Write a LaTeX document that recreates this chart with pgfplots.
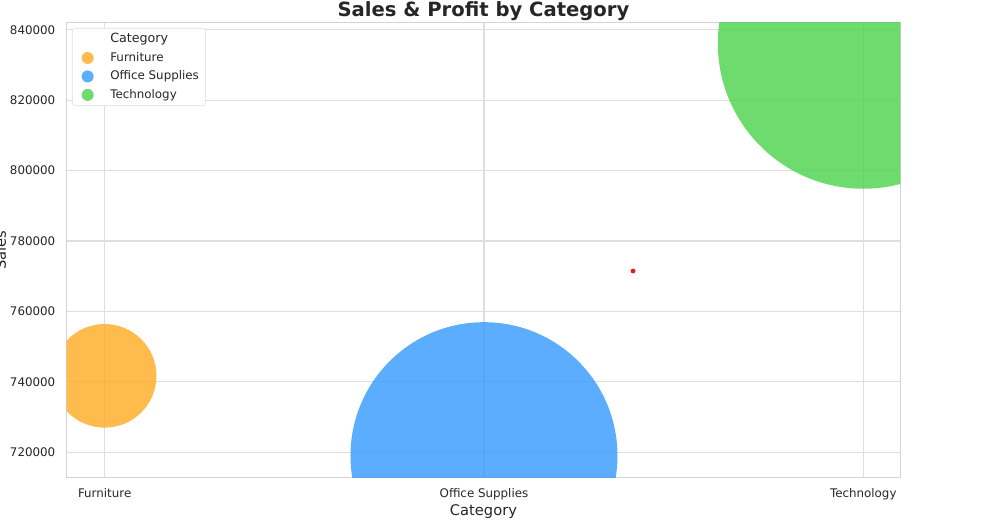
\documentclass[border=0pt]{standalone}
\usepackage{fontspec}
\setmainfont{DejaVu Sans}
\usepackage{pgfplots}
\pgfplotsset{compat=1.18}
\usepackage{pgfplotstable}

\definecolor{furn}{RGB}{255,171,31}
\definecolor{offs}{RGB}{53,153,254}
\definecolor{tech}{RGB}{74,210,74}
\definecolor{gridc}{HTML}{DEDEDE}
\definecolor{framec}{HTML}{D4D4D4}
\definecolor{txt}{HTML}{262626}
\definecolor{dotred}{RGB}{220,30,30}

% x = category index, sales in $, profit in $k
\pgfplotstableread{
x sales profitk
0 741718.42 18.451
}\furniture
\pgfplotstableread{
x sales profitk
1 719047.03 122.491
}\office
\pgfplotstableread{
x sales profitk
2 836154.03 145.455
}\technology

\pgfplotsset{
  bubble/.style={
    scatter, only marks, mark=*, forget plot,
    scatter/use mapped color={draw=#1, draw opacity=0, fill=#1, fill opacity=0.8},
    visualization depends on={109.1*sqrt(\thisrow{profitk}/145.455) \as \rad},
    scatter/@pre marker code/.append style={/tikz/mark size=\rad},
  },
  legmark/.style={only marks, mark=*, mark size=4.5pt,
    mark options={draw=#1, draw opacity=0, fill=#1, fill opacity=0.8}},
}

\begin{document}
\begin{tikzpicture}
\path[use as bounding box] (-50pt,-39.2pt) rectangle (700pt,358.3pt);
\begin{axis}[
  at={(0,0)}, anchor=south west,
  scale only axis, width=625.2pt, height=341.4pt,
  xmin=-0.1002, xmax=2.0975, ymin=712788, ymax=842044,
  clip marker paths=true,
  xtick={0,1,2},
  xticklabels={Furniture,Office Supplies,Technology},
  ytick={720000,740000,760000,780000,800000,820000,840000},
  scaled y ticks=false,
  yticklabel style={/pgf/number format/fixed, /pgf/number format/1000 sep={},
    /pgf/number format/assume math mode=true, xshift=-5pt},
  xticklabel style={yshift=-4.5pt},
  ticklabel style={font=\fontsize{8.9}{10}\selectfont, text=txt},
  major tick length=0pt,
  grid=major,
  major grid style={gridc, line width=0.8pt},
  axis line style={framec, line width=1pt},
  every axis title shift=0pt,
  title={Sales \& Profit by Category},
  title style={at={(axis description cs:0.5,1.013)}, anchor=base,
    font=\fontsize{14.7}{17}\selectfont\bfseries, text=txt},
  xlabel={Category},
  xlabel style={at={(axis description cs:0.5,-0.0835)}, anchor=base,
    font=\fontsize{11}{13}\selectfont, text=txt},
  ylabel={Sales},
  ylabel style={at={(axis description cs:-0.0728,0.5)}, anchor=base,
    font=\fontsize{11}{13}\selectfont, text=txt},
  legend cell align=left,
  legend style={at={(axis description cs:0.0064,0.988)}, anchor=north west,
    draw=gridc, rounded corners=2pt, fill=white, row sep=1.6pt,
    /tikz/every odd column/.append style={column sep=10.5pt},
    font=\fontsize{8.9}{10}\selectfont, text=txt},
]
\addplot[bubble=furn] table[x=x, y=sales] {\furniture};
\addplot[bubble=offs] table[x=x, y=sales] {\office};
\addplot[bubble=tech] table[x=x, y=sales] {\technology};
\addplot[only marks, mark=*, mark size=1.6pt, forget plot,
  mark options={draw=dotred, fill=dotred}]
  coordinates {(1.393,771488)};

\addlegendimage{empty legend}
\addlegendentry{\fontsize{9.5}{11}\selectfont Category}
\addlegendimage{legmark=furn}
\addlegendentry{Furniture}
\addlegendimage{legmark=offs}
\addlegendentry{Office Supplies}
\addlegendimage{legmark=tech}
\addlegendentry{Technology}
\end{axis}
\end{tikzpicture}
\end{document}
